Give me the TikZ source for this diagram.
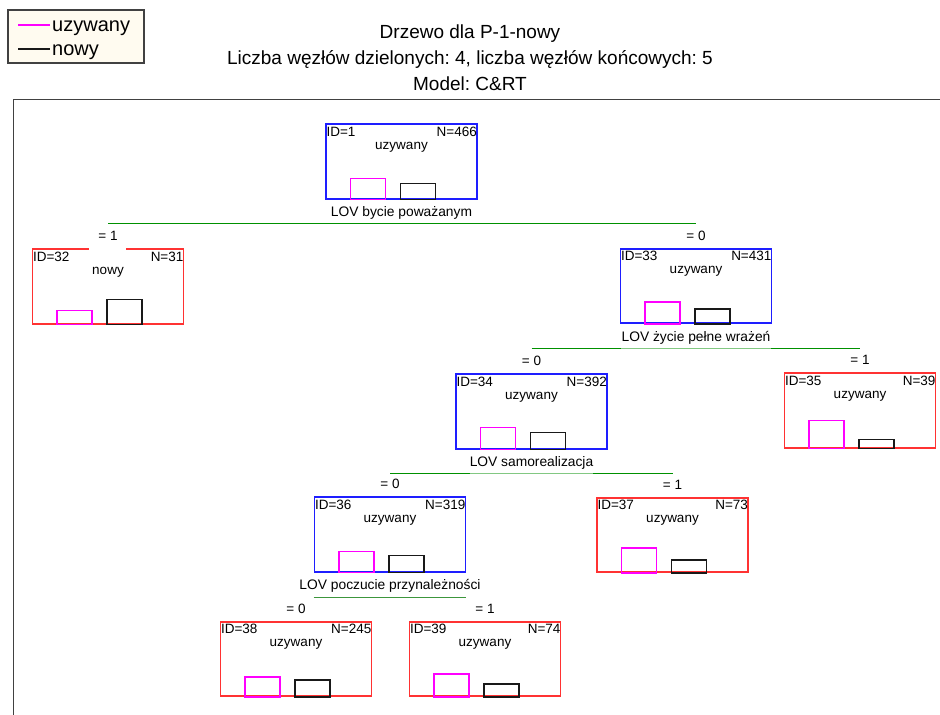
\documentclass[tikz,border=0pt]{standalone}
\usepackage{fontspec}
\setmainfont{Liberation Sans}
\usetikzlibrary{calc}
\frenchspacing
\definecolor{splitblue}{RGB}{30,30,255}
\definecolor{termred}{RGB}{255,50,50}
\definecolor{barmag}{RGB}{255,0,255}
\definecolor{barblk}{RGB}{25,25,25}
\definecolor{splitgreen}{RGB}{0,145,0}
\definecolor{lightgreen}{RGB}{130,200,130}
\definecolor{midgreen}{RGB}{60,150,60}
\definecolor{framegray}{RGB}{65,65,65}
\definecolor{legendbg}{RGB}{255,251,240}
\tikzset{
  treebox/.style={draw, line width=1.8pt, minimum width=151pt, minimum height=74.5pt, inner sep=0pt},
  splitbox/.style={treebox, draw=splitblue},
  termbox/.style={treebox, draw=termred},
  nodetxt/.style={inner sep=0pt, font=\fontsize{13.5}{16}\selectfont},
  splittxt/.style={inner sep=0pt, anchor=base, font=\fontsize{13.8}{16}\selectfont},
  edgetxt/.style={inner sep=0pt, anchor=base, font=\fontsize{13.5}{16}\selectfont},
  titletxt/.style={inner sep=0pt, anchor=base, font=\fontsize{19}{22}\selectfont},
  legtxt/.style={inner sep=0pt, anchor=base west, font=\fontsize{20}{24}\selectfont},
  magbar/.style={draw=barmag, line width=1.5pt},
  blkbar/.style={draw=barblk, line width=1.5pt},
  splitline/.style={draw=splitgreen, line width=1.6pt},
  lightline/.style={draw=lightgreen, line width=1.6pt},
  midline/.style={draw=midgreen, line width=1.4pt},
}
% #1 name, #2 x, #3 y, #4 style, #5 ID, #6 N, #7 class, #8 magenta height, #9 black height
\newcommand\treeNd[9]{%
  \node[#4] (#1) at (#2,#3) {};
  \node[nodetxt, anchor=base west] (#1id) at ($(#1.north west)+(1.2,13)$) {ID=#5};
  \node[nodetxt, anchor=base east] (#1n) at ($(#1.north east)+(-0.8,13)$) {N=#6};
  \node[nodetxt, anchor=base] (#1c) at ($(#1.north)+(0,26)$) {#7};
  \draw[magbar] ($(#1.south west)+(25.5,0)$) rectangle ++(35,-#8);
  \draw[blkbar] ($(#1.south west)+(75.5,0)$) rectangle ++(35,-#9);
}
\begin{document}
\begin{tikzpicture}[x=1pt,y=-1pt]
\useasboundingbox[fill=white] (0,0) rectangle (940,715);

% legend
\draw[draw=framegray, fill=legendbg, line width=1.3pt] (8,10) rectangle (144,63);
\coordinate (lgm) at (18,25.3);
\coordinate (lgb) at (18,49.3);
\draw[draw=barmag, line width=1.8pt] (lgm) -- ++(32,0);
\draw[draw=barblk, line width=1.8pt] (lgb) -- ++(32,0);
\node[legtxt] (lg1) at (52,31) {uzywany};
\node[legtxt] (lg2) at (52,55) {nowy};

% title
\node[titletxt] (t1) at (470,38.3) {Drzewo dla P-1-nowy};
\node[titletxt] (t2) at (470,64.3) {Liczba węzłów dzielonych: 4, liczba węzłów końcowych: 5};
\node[titletxt] (t3) at (470,90.3) {Model: C\&RT};

% frame
\draw[framegray, line width=1.8pt] (13.5,716) -- (13.5,99.5) -- (941,99.5);

% nodes
\treeNd{n1}{401.5}{161.5}{splitbox}{1}{466}{uzywany}{21}{16}
\treeNd{n32}{108}{286.5}{termbox}{32}{31}{nowy}{14}{25}
\treeNd{n33}{696}{286}{splitbox}{33}{431}{uzywany}{22}{15}
\treeNd{n34}{531.5}{411.5}{splitbox}{34}{392}{uzywany}{22}{17}
\treeNd{n35}{860}{410.5}{termbox}{35}{39}{uzywany}{28}{9}
\treeNd{n36}{390}{534.5}{splitbox}{36}{319}{uzywany}{21}{17}
\treeNd{n37}{672.5}{535}{termbox}{37}{73}{uzywany}{25}{13}
\treeNd{n38}{296}{659}{termbox}{38}{245}{uzywany}{20}{17}
\treeNd{n39}{485}{659}{termbox}{39}{74}{uzywany}{23}{13}

% split labels
\node[splittxt] (s1) at ($(n1.south)+(0,17)$) {LOV bycie poważanym};
\node[splittxt] (s33) at ($(n33.south)+(0,17)$) {LOV życie pełne wrażeń};
\node[splittxt] (s34) at ($(n34.south)+(0,17)$) {LOV samorealizacja};
\node[splittxt] (s36) at ($(n36.south)+(0,17)$) {LOV poczucie przynależności};

% split lines
\coordinate (l1) at ($(n1.south)+(0,24)$);
\coordinate (l33) at ($(n33.south)+(0,24.5)$);
\coordinate (l34) at ($(n34.south)+(0,24)$);
\coordinate (l36) at ($(n36.south)+(0,25)$);
\draw[splitline] (l1 -| n32) -- (l1 -| n33);
\draw[splitline] (l33 -| n34) -- (l33 -| n35);
\draw[lightline] (l33 -| s33.west) -- (l33 -| s33.east);
\draw[splitline] (l34 -| n36) -- (l34 -| n37);
\draw[lightline] (l34 -| s34.west) -- (l34 -| s34.east);
\draw[midline] (l36 -| n36.west) -- (l36 -| n36.east);

% edge labels
\fill[white] ($(n32.north)+(-19,-1.5)$) rectangle ($(n32.north)+(18,1.5)$);
\node[edgetxt] (e32) at ($(n32.north)+(0,-7.5)$) {= 1};
\node[edgetxt] (e33) at ($(n33.north)+(0,-7.5)$) {= 0};
\node[edgetxt] (e34) at ($(n34.north)+(0,-7.5)$) {= 0};
\node[edgetxt] (e35) at ($(n35.north)+(0,-7.5)$) {= 1};
\node[edgetxt] (e36) at ($(n36.north)+(0,-7.5)$) {= 0};
\node[edgetxt] (e37) at ($(n37.north)+(0,-7.5)$) {= 1};
\node[edgetxt] (e38) at ($(n38.north)+(0,-7.5)$) {= 0};
\node[edgetxt] (e39) at ($(n39.north)+(0,-7.5)$) {= 1};
\end{tikzpicture}
\end{document}
